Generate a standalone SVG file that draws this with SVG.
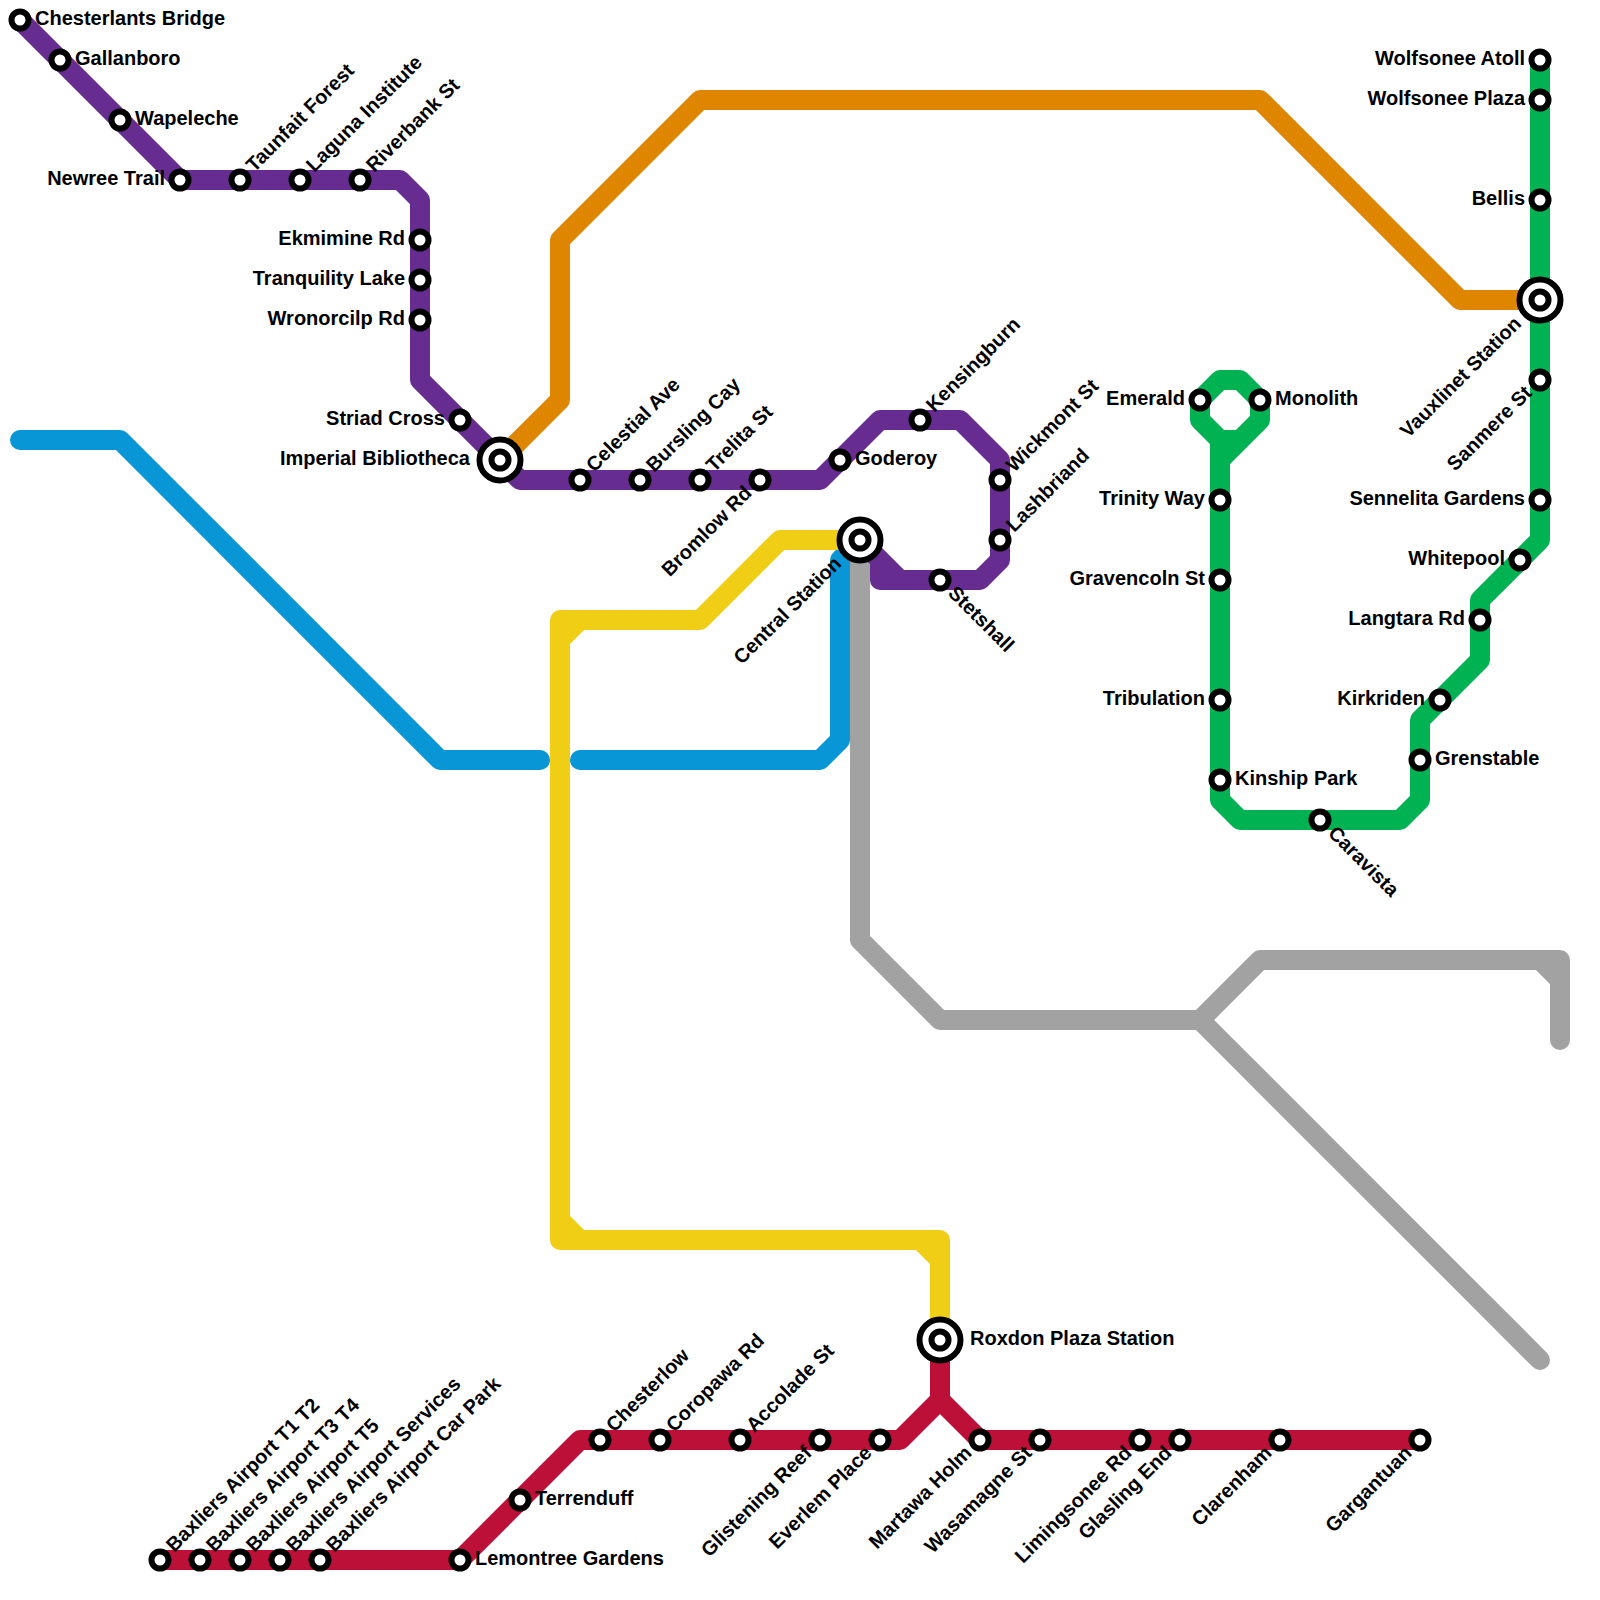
<svg xmlns="http://www.w3.org/2000/svg" width="1600" height="1600" viewBox="0 0 1600 1600">
<style>
.l{fill:none;stroke-width:20;stroke-linejoin:round;stroke-linecap:round}
.p{stroke:#662c90}.b{stroke:#0896d7}.o{stroke:#df8600}.y{stroke:#f0ce15}.g{stroke:#00b251}.a{stroke:#a2a2a2}.r{stroke:#bd1038}
.s{fill:#fff;stroke:#000;stroke-width:6}
text{font-family:"Liberation Sans",Arial,sans-serif;font-weight:700;font-size:20px;fill:#000}
.e{text-anchor:end}
</style>
<defs>
<g id="st"><circle class="s" r="8.5"/></g>
<g id="ix"><circle class="s" r="20.5"/><circle class="s" r="8.5"/></g>
</defs>
<rect width="1600" height="1600" fill="#fff"/>
<g id="connectors">
<path class="l o" d="M500 460L560 400V240L700 100H1260L1460 300H1540"/>
<path class="l b" d="M20 440H120L440 760H540M580 760H820L840 740V560L860 540"/>
<path class="l a" d="M860 540V940L940 1020H1200L1260 960H1560V1040M1540 960L1560 980M1200 1020L1540 1360"/>
<path class="l y" d="M860 540H780L700 620H560V1240H940V1340M580 620L560 640M560 1220L580 1240M920 1240L940 1260"/>
<path class="l p" d="M20 20L180 180H400L420 200V380L520 480H820L880 420H960L1000 460V560L980 580H880V560L860 540M880 560L900 580"/>
<path class="l r" d="M160 1560H460L580 1440H900L940 1400V1340M940 1400L980 1440H1420"/>
<path class="l g" d="M1540 60V540L1480 600V660L1420 720V800L1400 820H1240L1220 800V460L1260 420V400L1240 380H1220L1200 400V420L1220 440H1240M1220 440V460"/>
</g>
<g id="s1" transform="translate(20,20)"><use href="#st"/><text x="15" y="5">Chesterlants Bridge</text></g>
<g id="s2" transform="translate(60,60)"><use href="#st"/><text x="15" y="5">Gallanboro</text></g>
<g id="s3" transform="translate(120,120)"><use href="#st"/><text x="15" y="5">Wapeleche</text></g>
<g id="s4" transform="translate(180,180)"><use href="#st"/><text class="e" x="-15" y="5">Newree Trail</text></g>
<g id="s5" transform="translate(240,180)"><use href="#st"/><text transform="rotate(-45)" x="15" y="5">Taunfait Forest</text></g>
<g id="s6" transform="translate(300,180)"><use href="#st"/><text transform="rotate(-45)" x="15" y="5">Laguna Institute</text></g>
<g id="s7" transform="translate(360,180)"><use href="#st"/><text transform="rotate(-45)" x="15" y="5">Riverbank St</text></g>
<g id="s8" transform="translate(420,240)"><use href="#st"/><text class="e" x="-15" y="5">Ekmimine Rd</text></g>
<g id="s9" transform="translate(420,280)"><use href="#st"/><text class="e" x="-15" y="5">Tranquility Lake</text></g>
<g id="s10" transform="translate(420,320)"><use href="#st"/><text class="e" x="-15" y="5">Wronorcilp Rd</text></g>
<g id="s11" transform="translate(460,420)"><use href="#st"/><text class="e" x="-15" y="5">Striad Cross</text></g>
<g id="s12" transform="translate(500,460)"><use href="#ix"/><text class="e" x="-30" y="5">Imperial Bibliotheca</text></g>
<g id="s13" transform="translate(580,480)"><use href="#st"/><text transform="rotate(-45)" x="15" y="5">Celestial Ave</text></g>
<g id="s14" transform="translate(640,480)"><use href="#st"/><text transform="rotate(-45)" x="15" y="5">Bursling Cay</text></g>
<g id="s15" transform="translate(700,480)"><use href="#st"/><text transform="rotate(-45)" x="15" y="5">Trelita St</text></g>
<g id="s16" transform="translate(760,480)"><use href="#st"/><text class="e" transform="rotate(-45)" x="-15" y="5">Bromlow Rd</text></g>
<g id="s17" transform="translate(840,460)"><use href="#st"/><text x="15" y="5">Goderoy</text></g>
<g id="s18" transform="translate(920,420)"><use href="#st"/><text transform="rotate(-45)" x="15" y="5">Kensingburn</text></g>
<g id="s19" transform="translate(1000,480)"><use href="#st"/><text transform="rotate(-45)" x="15" y="5">Wickmont St</text></g>
<g id="s20" transform="translate(1000,540)"><use href="#st"/><text transform="rotate(-45)" x="15" y="5">Lashbriand</text></g>
<g id="s21" transform="translate(940,580)"><use href="#st"/><text transform="rotate(45)" x="15" y="5">Stetshall</text></g>
<g id="s22" transform="translate(860,540)"><use href="#ix"/><text class="e" transform="rotate(-45)" x="-30" y="5">Central Station</text></g>
<g id="s23" transform="translate(1200,400)"><use href="#st"/><text class="e" x="-15" y="5">Emerald</text></g>
<g id="s24" transform="translate(1260,400)"><use href="#st"/><text x="15" y="5">Monolith</text></g>
<g id="s25" transform="translate(1220,500)"><use href="#st"/><text class="e" x="-15" y="5">Trinity Way</text></g>
<g id="s26" transform="translate(1220,580)"><use href="#st"/><text class="e" x="-15" y="5">Gravencoln St</text></g>
<g id="s27" transform="translate(1220,700)"><use href="#st"/><text class="e" x="-15" y="5">Tribulation</text></g>
<g id="s28" transform="translate(1220,780)"><use href="#st"/><text x="15" y="5">Kinship Park</text></g>
<g id="s29" transform="translate(1320,820)"><use href="#st"/><text transform="rotate(45)" x="15" y="5">Caravista</text></g>
<g id="s30" transform="translate(1420,760)"><use href="#st"/><text x="15" y="5">Grenstable</text></g>
<g id="s31" transform="translate(1440,700)"><use href="#st"/><text class="e" x="-15" y="5">Kirkriden</text></g>
<g id="s32" transform="translate(1480,620)"><use href="#st"/><text class="e" x="-15" y="5">Langtara Rd</text></g>
<g id="s33" transform="translate(1520,560)"><use href="#st"/><text class="e" x="-15" y="5">Whitepool</text></g>
<g id="s34" transform="translate(1540,500)"><use href="#st"/><text class="e" x="-15" y="5">Sennelita Gardens</text></g>
<g id="s35" transform="translate(1540,380)"><use href="#st"/><text class="e" transform="rotate(-45)" x="-15" y="5">Sanmere St</text></g>
<g id="s36" transform="translate(1540,300)"><use href="#ix"/><text class="e" transform="rotate(-45)" x="-30" y="5">Vauxlinet Station</text></g>
<g id="s37" transform="translate(1540,200)"><use href="#st"/><text class="e" x="-15" y="5">Bellis</text></g>
<g id="s38" transform="translate(1540,100)"><use href="#st"/><text class="e" x="-15" y="5">Wolfsonee Plaza</text></g>
<g id="s39" transform="translate(1540,60)"><use href="#st"/><text class="e" x="-15" y="5">Wolfsonee Atoll</text></g>
<g id="s40" transform="translate(940,1340)"><use href="#ix"/><text x="30" y="5">Roxdon Plaza Station</text></g>
<g id="s41" transform="translate(160,1560)"><use href="#st"/><text transform="rotate(-45)" x="15" y="5">Baxliers Airport T1 T2</text></g>
<g id="s42" transform="translate(200,1560)"><use href="#st"/><text transform="rotate(-45)" x="15" y="5">Baxliers Airport T3 T4</text></g>
<g id="s43" transform="translate(240,1560)"><use href="#st"/><text transform="rotate(-45)" x="15" y="5">Baxliers Airport T5</text></g>
<g id="s44" transform="translate(280,1560)"><use href="#st"/><text transform="rotate(-45)" x="15" y="5">Baxliers Airport Services</text></g>
<g id="s45" transform="translate(320,1560)"><use href="#st"/><text transform="rotate(-45)" x="15" y="5">Baxliers Airport Car Park</text></g>
<g id="s46" transform="translate(460,1560)"><use href="#st"/><text x="15" y="5">Lemontree Gardens</text></g>
<g id="s47" transform="translate(520,1500)"><use href="#st"/><text x="15" y="5">Terrenduff</text></g>
<g id="s48" transform="translate(600,1440)"><use href="#st"/><text transform="rotate(-45)" x="15" y="5">Chesterlow</text></g>
<g id="s49" transform="translate(660,1440)"><use href="#st"/><text transform="rotate(-45)" x="15" y="5">Coropawa Rd</text></g>
<g id="s50" transform="translate(740,1440)"><use href="#st"/><text transform="rotate(-45)" x="15" y="5">Accolade St</text></g>
<g id="s51" transform="translate(820,1440)"><use href="#st"/><text class="e" transform="rotate(-45)" x="-15" y="5">Glistening Reef</text></g>
<g id="s52" transform="translate(880,1440)"><use href="#st"/><text class="e" transform="rotate(-45)" x="-15" y="5">Everlem Place</text></g>
<g id="s53" transform="translate(980,1440)"><use href="#st"/><text class="e" transform="rotate(-45)" x="-15" y="5">Martawa Holm</text></g>
<g id="s54" transform="translate(1040,1440)"><use href="#st"/><text class="e" transform="rotate(-45)" x="-15" y="5">Wasamagne St</text></g>
<g id="s55" transform="translate(1140,1440)"><use href="#st"/><text class="e" transform="rotate(-45)" x="-15" y="5">Limingsonee Rd</text></g>
<g id="s56" transform="translate(1180,1440)"><use href="#st"/><text class="e" transform="rotate(-45)" x="-15" y="5">Glasling End</text></g>
<g id="s57" transform="translate(1280,1440)"><use href="#st"/><text class="e" transform="rotate(-45)" x="-15" y="5">Clarenham</text></g>
<g id="s58" transform="translate(1420,1440)"><use href="#st"/><text class="e" transform="rotate(-45)" x="-15" y="5">Gargantuan</text></g>
</svg>
